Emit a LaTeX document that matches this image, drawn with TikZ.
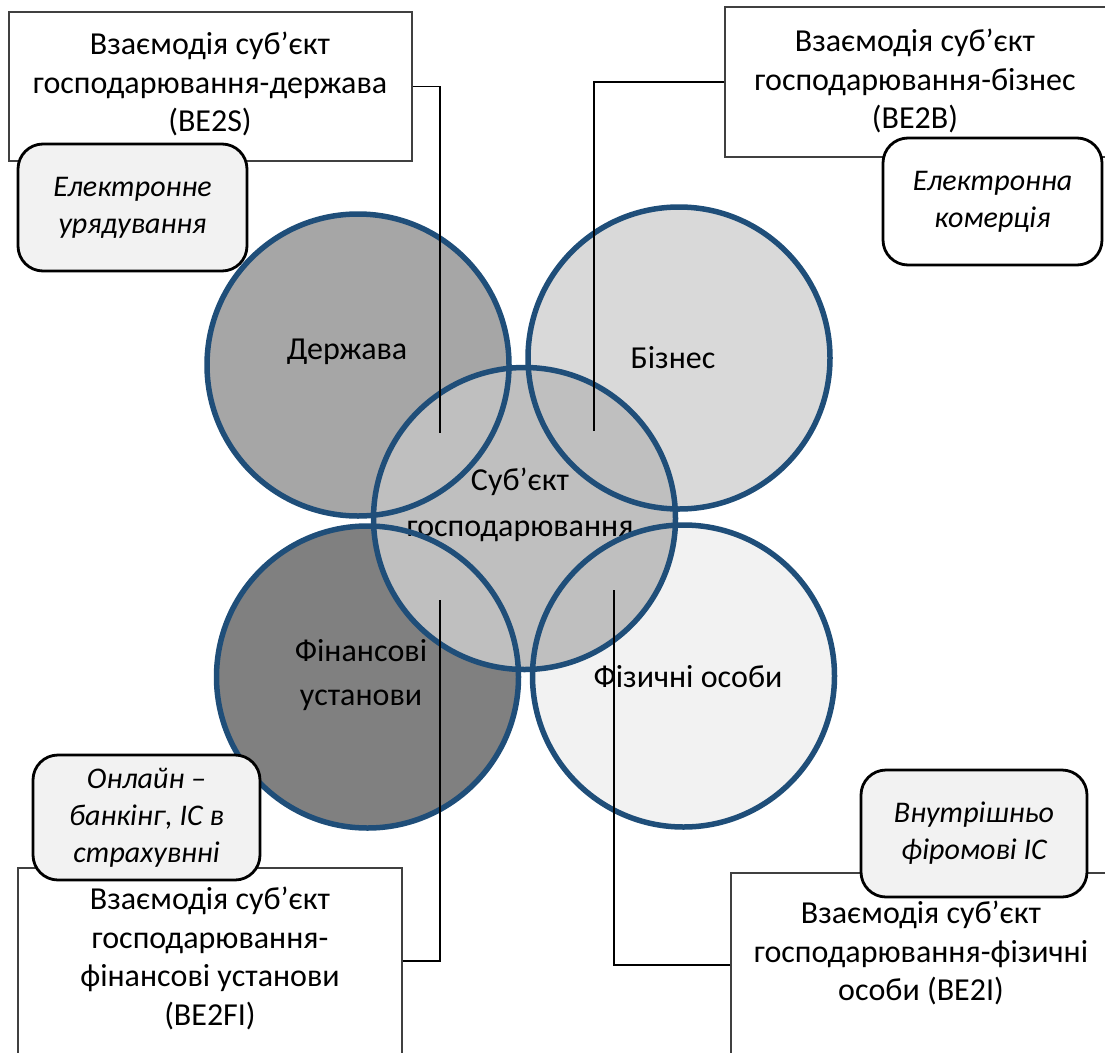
\documentclass[tikz,border=0pt]{standalone}
\usepackage{fontspec}
\setmainfont{Carlito}
\definecolor{ringblue}{RGB}{31,78,121}
\definecolor{stategray}{RGB}{166,166,166}
\definecolor{bizgray}{RGB}{217,217,217}
\definecolor{coregray}{RGB}{191,191,191}
\definecolor{fingray}{RGB}{128,128,128}
\definecolor{persgray}{RGB}{242,242,242}
\begin{document}
\begin{tikzpicture}[x=1pt, y=-1pt,
    ring/.style={circle, minimum size=302pt, inner sep=0pt},
    ringtext/.style={align=center, font=\fontsize{32}{46}\selectfont},
    framebox/.style={draw=black!75, fill=white, line width=1.2pt, rectangle, inner sep=0pt},
    boxtext/.style={align=center, font=\fontsize{32}{38.5}\selectfont},
    notebox/.style={draw, fill=persgray, rounded corners=25pt, line width=2.8pt, inner sep=0pt, align=center, font=\fontsize{30}{37}\selectfont\itshape},
    link/.style={draw, line width=1.5pt}]
  \useasboundingbox (0,0) rectangle (1105,1052);
  \clip (0,0) rectangle (1105,1052);

  % circles
  \node[ring, fill=stategray] (state) at (358,365) {};
  \node[ring, fill=bizgray] (business) at (679,358) {};
  \node[ring, fill=fingray] (finance) at (367.5,677) {};
  \node[ring, fill=persgray] (person) at (683.5,676) {};
  \node[ring, fill=coregray] (core) at (524.5,518.5) {};

  \node[ringtext] (statelbl) at (347,352) {Держава};
  \node[ringtext] (businesslbl) at (673,358) {Бізнес};
  \node[ringtext] (corelbl) at (520,505) {Суб’єкт\\господарювання};
  \node[ringtext, font=\fontsize{32}{44}\selectfont] (financelbl) at (361,675) {Фінансові\\установи};
  \node[ringtext] (personlbl) at (688,677) {Фізичні особи};

  \foreach \c in {state, business, finance, person, core}
    \draw[ringblue, line width=5.5pt] (\c.center) circle (151pt);

  % interaction boxes
  \node[framebox, minimum width=403pt, minimum height=149pt] (be2s) at (210.5,86.5) {};
  \node[boxtext] (be2stext) at (210,84) {Взаємодія суб’єкт\\господарювання-держава\\(BE2S)};
  \node[framebox, minimum width=384pt, minimum height=150pt] (be2b) at (917,82) {};
  \node[boxtext] (be2btext) at (915,81) {Взаємодія суб’єкт\\господарювання-бізнес\\(BE2B)};
  \node[framebox, minimum width=384pt, minimum height=186pt] (be2fi) at (210,961) {};
  \node[boxtext] (be2fitext) at (210,958.5) {Взаємодія суб’єкт\\господарювання-\\фінансові установи\\(BE2FI)};
  \node[framebox, minimum width=380pt, minimum height=184pt] (be2i) at (921,965) {};
  \node[boxtext] (be2itext) at (921,953) {Взаємодія суб’єкт\\господарювання-фізичні\\особи (BE2I)};

  % example systems
  \node[notebox, minimum width=229pt, minimum height=127pt] (egov) at (132.5,207.5) {Електронне\\урядування};
  \node[notebox, fill=white, minimum width=219pt, minimum height=127pt] (ecom) at (992.5,201.5) {Електронна\\комерція};
  \node[notebox, minimum width=227pt, minimum height=125pt] (ebank) at (146.5,817.5) {Онлайн –\\банкінг, ІС в\\страхувнні};
  \node[notebox, minimum width=226pt, minimum height=127pt] (intra) at (974,833.5) {Внутрішньо\\фіромові ІС};

  % connectors
  \coordinate (stateend) at (440,433);
  \coordinate (businessend) at (594,431);
  \coordinate (financeend) at (440,600);
  \coordinate (personend) at (614,590);
  \draw[link] (be2s.east) -| (stateend);
  \draw[link] (be2b.west) -| (businessend);
  \draw[link] (be2fi.east) -| (financeend);
  \draw[link] (be2i.west) -| (personend);
\end{tikzpicture}
\end{document}
